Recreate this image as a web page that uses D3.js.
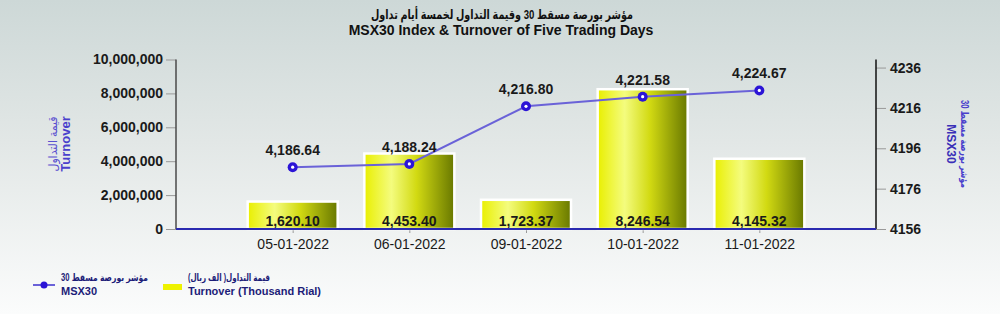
<!DOCTYPE html>
<html>
<head>
<meta charset="utf-8">
<script src="https://cdn.jsdelivr.net/npm/d3@7/dist/d3.min.js"></script>
<style>
  html, body { margin: 0; padding: 0; background: #fff; }
  svg { display: block; font-family: "Liberation Sans", Arial, "DejaVu Sans", sans-serif; }
</style>
</head>
<body>
<div id="chart"></div>
<script>
const dates = ['05-01-2022', '06-01-2022', '09-01-2022', '10-01-2022', '11-01-2022'];
const turnover = [1620.10, 4453.40, 1723.37, 8246.54, 4145.32]; // thousand rial
const msx30 = [4186.64, 4188.24, 4216.80, 4221.58, 4224.67];
const leftTicks = [0, 2000000, 4000000, 6000000, 8000000, 10000000];
const rightTicks = [4156, 4176, 4196, 4216, 4236];

const width = 1000;
const height = 314;
const plotLeft = 176;
const plotRight = 876;
const plotBottom = 229;
const plotTop = 59.5;

const svg = d3.select('#chart').append('svg')
  .attr('width', width)
  .attr('height', height);

const defs = svg.append('defs');
const bg = defs.append('linearGradient').attr('id', 'bg-grad')
  .attr('x1', '0%').attr('x2', '0%').attr('y1', '0%').attr('y2', '100%');
bg.append('stop').attr('offset', '0%').attr('stop-color', '#cdd8d7');
bg.append('stop').attr('offset', '45%').attr('stop-color', '#e2e7e6');
bg.append('stop').attr('offset', '100%').attr('stop-color', '#fbfcfc');

const barGrad = defs.append('linearGradient').attr('id', 'bar-grad')
  .attr('x1', '0%').attr('x2', '100%').attr('y1', '0%').attr('y2', '0%');
barGrad.append('stop').attr('offset', '0%').attr('stop-color', '#e9ef00');
barGrad.append('stop').attr('offset', '30%').attr('stop-color', '#f4fc7e');
barGrad.append('stop').attr('offset', '58%').attr('stop-color', '#d2da12');
barGrad.append('stop').attr('offset', '100%').attr('stop-color', '#687800');

svg.append('rect').attr('width', width).attr('height', height).attr('fill', 'url(#bg-grad)');

// arabic strings come out wide in DejaVu, so squeeze them to the reference width
const squeeze = (sel, len) => sel.attr('textLength', len).attr('lengthAdjust', 'spacingAndGlyphs');

// title
svg.append('text').attr('x', 502).attr('y', 19).attr('text-anchor', 'middle')
  .attr('font-size', 13).attr('font-weight', 'bold').attr('fill', '#111')
  .call(squeeze, 262)
  .text('مؤشر بورصة مسقط 30 وقيمة التداول لخمسة أيام تداول');
svg.append('text').attr('x', 501).attr('y', 35).attr('text-anchor', 'middle')
  .attr('font-size', 14).attr('font-weight', 'bold').attr('fill', '#111')
  .text('MSX30 Index & Turnover of Five Trading Days');

// scales
const x = d3.scalePoint().domain(dates).range([plotLeft, plotRight]).padding(1);
const yLeft = d3.scaleLinear().domain([0, 10000000]).range([plotBottom, plotTop]);
const yRight = d3.scaleLinear().domain([4156, 4240]).range([plotBottom, plotTop]);
const barWidth = 90;

// axes
const axisL = svg.append('g').attr('transform', `translate(${plotLeft},0)`)
  .call(d3.axisLeft(yLeft).tickValues(leftTicks).tickSize(10).tickPadding(3)
    .tickFormat(d3.format(',')));
axisL.select('.domain').remove();
axisL.selectAll('.tick line').attr('stroke', '#999');
axisL.selectAll('.tick text').attr('font-size', 14).attr('font-weight', 'bold')
  .attr('fill', '#1a1a1a').attr('font-family', null);
svg.append('line').attr('x1', plotLeft).attr('x2', plotLeft).attr('y1', plotTop).attr('y2', plotBottom)
  .attr('stroke', '#4a4a4a').attr('stroke-width', 1.5);

const axisR = svg.append('g').attr('transform', `translate(${plotRight},0)`)
  .call(d3.axisRight(yRight).tickValues(rightTicks).tickSize(10).tickPadding(4)
    .tickFormat(d3.format('d')));
axisR.select('.domain').remove();
axisR.selectAll('.tick line').attr('stroke', '#999');
axisR.selectAll('.tick text').attr('font-size', 14).attr('font-weight', 'bold')
  .attr('fill', '#1a1a1a').attr('font-family', null);
svg.append('line').attr('x1', plotRight).attr('x2', plotRight).attr('y1', plotTop).attr('y2', plotBottom)
  .attr('stroke', '#111').attr('stroke-width', 1.5);

const axisX = svg.append('g').attr('transform', `translate(0,${plotBottom})`)
  .call(d3.axisBottom(x).tickSize(4).tickPadding(6));
axisX.select('.domain').remove();
axisX.selectAll('.tick line').attr('stroke', '#999');
axisX.selectAll('.tick text').attr('font-size', 14).attr('fill', '#1a1a1a').attr('font-family', null);

// axis titles
svg.append('text').attr('transform', 'translate(57,144) rotate(-90)').attr('text-anchor', 'middle')
  .attr('font-size', 12).attr('fill', '#5a50d0').call(squeeze, 55).text('قيمة التداول');
svg.append('text').attr('transform', 'translate(70,144) rotate(-90)').attr('text-anchor', 'middle')
  .attr('font-size', 13).attr('font-weight', 'bold').attr('fill', '#4a3fcc').text('Turnover');
svg.append('text').attr('transform', 'translate(961,144) rotate(90)').attr('text-anchor', 'middle')
  .attr('font-size', 10).attr('font-weight', 'bold').attr('fill', '#4a3fcc').call(squeeze, 88)
  .text('مؤشر بورصة مسقط 30');
svg.append('text').attr('transform', 'translate(947,144) rotate(90)').attr('text-anchor', 'middle')
  .attr('font-size', 12).attr('font-weight', 'bold').attr('fill', '#3a30b8').text('MSX30');

// bars
const barData = dates.map((d, i) => ({ date: d, value: turnover[i] }));
svg.append('g').selectAll('rect').data(barData).join('rect')
  .attr('x', (d) => x(d.date) - barWidth / 2)
  .attr('y', (d) => yLeft(d.value * 1000))
  .attr('width', barWidth)
  .attr('height', (d) => plotBottom - yLeft(d.value * 1000))
  .attr('fill', 'url(#bar-grad)')
  .attr('stroke', '#fff')
  .attr('stroke-width', 2.5);

svg.append('g').selectAll('text').data(barData).join('text')
  .attr('x', (d) => x(d.date))
  .attr('y', plotBottom - 3)
  .attr('text-anchor', 'middle')
  .attr('font-size', 14).attr('font-weight', 'bold').attr('fill', '#1a1a1a')
  .text((d) => d3.format(',.2f')(d.value));

// baseline
svg.append('line').attr('x1', plotLeft).attr('x2', plotRight).attr('y1', plotBottom).attr('y2', plotBottom)
  .attr('stroke', '#2a2ab0').attr('stroke-width', 2);

// line series
const lineData = dates.map((d, i) => ({ date: d, value: msx30[i] }));
const line = d3.line().x((d) => x(d.date)).y((d) => yRight(d.value));
svg.append('path').datum(lineData).attr('d', line)
  .attr('fill', 'none').attr('stroke', '#6a62d8').attr('stroke-width', 2);

const pts = svg.append('g').selectAll('g').data(lineData).join('g')
  .attr('transform', (d) => `translate(${x(d.date)},${yRight(d.value)})`);
pts.append('circle').attr('r', 5).attr('fill', '#2b14d6');
pts.append('circle').attr('r', 1.6).attr('fill', '#fff');
pts.append('text').attr('y', -12).attr('text-anchor', 'middle')
  .attr('font-size', 14).attr('font-weight', 'bold').attr('fill', '#1a1a1a')
  .text((d) => d3.format(',.2f')(d.value));

// legend
const legend = svg.append('g');
legend.append('line').attr('x1', 33).attr('x2', 55).attr('y1', 285).attr('y2', 285)
  .attr('stroke', '#6a62d8').attr('stroke-width', 2);
legend.append('circle').attr('cx', 44).attr('cy', 285).attr('r', 3.5).attr('fill', '#2b14d6');
legend.append('text').attr('x', 61).attr('y', 281).attr('font-size', 10).attr('font-weight', 'bold')
  .attr('fill', '#1c1c78').call(squeeze, 87).text('مؤشر بورصة مسقط 30');
legend.append('text').attr('x', 61).attr('y', 295).attr('font-size', 11).attr('font-weight', 'bold')
  .attr('fill', '#1c1c78').text('MSX30');
legend.append('rect').attr('x', 163).attr('y', 284).attr('width', 19).attr('height', 6).attr('fill', '#eef200');
legend.append('text').attr('x', 188).attr('y', 281).attr('font-size', 10).attr('font-weight', 'bold')
  .attr('fill', '#1c1c78').call(squeeze, 82).text('قيمة التداول( الف ريال)');
legend.append('text').attr('x', 188).attr('y', 295).attr('font-size', 11).attr('font-weight', 'bold')
  .attr('fill', '#1c1c78').text('Turnover (Thousand Rial)');
</script>
</body>
</html>
